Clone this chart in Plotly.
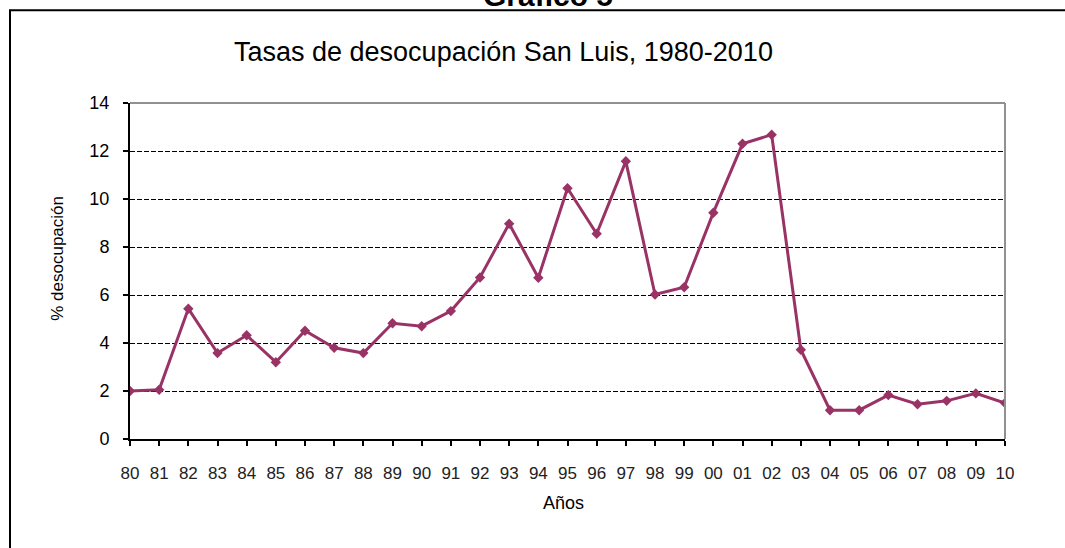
import plotly.graph_objects as go

years = ["80", "81", "82", "83", "84", "85", "86", "87", "88", "89", "90",
         "91", "92", "93", "94", "95", "96", "97", "98", "99", "00",
         "01", "02", "03", "04", "05", "06", "07", "08", "09", "10"]
desocupacion = [2.0, 2.05, 5.43, 3.58, 4.32, 3.2, 4.51, 3.8, 3.58, 4.82, 4.7,
                5.33, 6.73, 8.97, 6.72, 10.45, 8.55, 11.57, 6.02, 6.32, 9.43,
                12.3, 12.68, 3.72, 1.2, 1.2, 1.83, 1.45, 1.59, 1.9, 1.5]
yticks = [0, 2, 4, 6, 8, 10, 12, 14]

color = "#993366"
font = "Liberation Sans, Arial, sans-serif"

fig = go.Figure()
fig.add_trace(go.Scatter(x=years, y=desocupacion, mode="lines+markers",
                         line=dict(color=color, width=3),
                         marker=dict(symbol="diamond", size=8, color=color),
                         showlegend=False))

fig.update_layout(
    width=1065, height=548,
    margin=dict(l=130, r=60, t=103, b=108.5),
    paper_bgcolor="white", plot_bgcolor="white",
    font=dict(family=font, color="black"),
)
fig.update_xaxes(type="category", range=[0, 30], showgrid=False,
                 showline=True, linecolor="black", linewidth=2,
                 ticks="outside", ticklen=5, tickwidth=2, tickcolor="black",
                 tickfont=dict(size=17, color="#222222"), ticklabelstandoff=13)
fig.update_yaxes(range=[0, 14], tickvals=yticks,
                 showgrid=True, gridcolor="black", griddash="5px,2px", gridwidth=1,
                 showline=True, linecolor="black", linewidth=2,
                 ticks="outside", ticklen=5, tickwidth=2, tickcolor="black",
                 tickfont=dict(size=18), ticklabelstandoff=10, zeroline=False)

# borde gris superior y derecho del área de trazado
fig.add_shape(type="line", xref="paper", yref="paper", x0=0, x1=1, y0=1, y1=1,
              line=dict(color="#909090", width=2))
fig.add_shape(type="line", xref="paper", yref="paper", x0=1, x1=1, y0=0, y1=1,
              line=dict(color="#909090", width=2))
# marco exterior
fig.add_shape(type="rect", xref="paper", yref="paper",
              x0=(10 - 130) / 875, x1=(1075 - 130) / 875,
              y0=(439.5 - 565) / 336.5, y1=(439.5 - 10) / 336.5,
              line=dict(color="black", width=2))

fig.add_annotation(text="<b>Gráfico 5</b>", xref="paper", yref="paper",
                   x=(548 - 130) / 875, y=(439.5 - 14) / 336.5,
                   xanchor="center", yanchor="bottom", showarrow=False,
                   font=dict(size=30, family=font))
fig.add_annotation(text="Tasas de desocupación San Luis, 1980-2010",
                   xref="paper", yref="paper",
                   x=(503 - 130) / 875, y=(439.5 - 52) / 336.5,
                   xanchor="center", yanchor="middle", showarrow=False,
                   font=dict(size=27, family=font))
fig.add_annotation(text="Años", xref="paper", yref="paper",
                   x=(563 - 130) / 875, y=(439.5 - 504) / 336.5,
                   xanchor="center", yanchor="middle", showarrow=False,
                   font=dict(size=18, family=font))
fig.add_annotation(text="% desocupación", xref="paper", yref="paper",
                   x=(58 - 130) / 875, y=(439.5 - 259) / 336.5,
                   xanchor="center", yanchor="middle", showarrow=False,
                   textangle=-90, font=dict(size=17, family=font))

fig.write_html("out.html", config={"displayModeBar": False},
               post_script="document.body.style.margin='0';")
